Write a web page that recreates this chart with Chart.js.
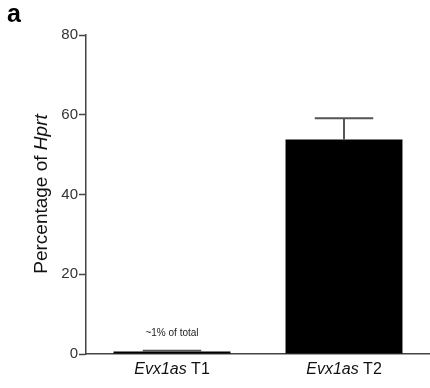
<!DOCTYPE html>
<html>
<head>
  <meta charset="UTF-8">
  <script src="https://cdn.jsdelivr.net/npm/chart.js"></script>
  <style>
    html, body { margin: 0; padding: 0; background: #fff; }
    #wrap { width: 430px; height: 388px; position: relative; }
  </style>
</head>
<body>
  <div id="wrap"><canvas id="myChart"></canvas></div>

<script>
  var categorias = ['T1', 'T2'];
  var valores = [0.6, 53.8];
  var erros = [0.2, 5.3];
  var yTicks = [0, 20, 40, 60, 80];

  var fonte = '"Liberation Sans", Arial, sans-serif';

  // barras de erro + textos com italico
  var extras = {
    id: 'extras',
    afterDatasetsDraw: function (chart) {
      var ctx = chart.ctx;
      var meta = chart.getDatasetMeta(0);
      var y = chart.scales.y;
      ctx.save();
      ctx.strokeStyle = '#555';
      ctx.lineWidth = 2;
      for (var i = 0; i < valores.length; i++) {
        var bar = meta.data[i];
        var meio = bar.width / 4;
        var topo = y.getPixelForValue(valores[i] + erros[i]);
        var base = y.getPixelForValue(valores[i]);
        ctx.beginPath();
        ctx.moveTo(bar.x, base);
        ctx.lineTo(bar.x, topo);
        ctx.moveTo(bar.x - meio, topo);
        ctx.lineTo(bar.x + meio, topo);
        ctx.stroke();
      }
      ctx.restore();
    },
    afterDraw: function (chart) {
      var ctx = chart.ctx;
      var x = chart.scales.x;
      ctx.save();
      ctx.fillStyle = '#111';
      ctx.textBaseline = 'middle';

      // rotulos do eixo x
      for (var i = 0; i < categorias.length; i++) {
        var px = x.getPixelForValue(i);
        ctx.font = 'italic 16px ' + fonte;
        var w1 = ctx.measureText('Evx1as').width;
        ctx.font = '16px ' + fonte;
        var w2 = ctx.measureText(' ' + categorias[i]).width;
        var ini = px - (w1 + w2) / 2;
        ctx.textAlign = 'left';
        ctx.font = 'italic 16px ' + fonte;
        ctx.fillText('Evx1as', ini, 370);
        ctx.font = '16px ' + fonte;
        ctx.fillText(' ' + categorias[i], ini + w1, 370);
      }

      // anotacao
      ctx.font = '10px ' + fonte;
      ctx.textAlign = 'center';
      ctx.fillStyle = '#222';
      ctx.fillText('~1% of total', x.getPixelForValue(0), 333);

      // titulo do eixo y
      ctx.save();
      ctx.translate(42, 194);
      ctx.rotate(-Math.PI / 2);
      ctx.fillStyle = '#111';
      ctx.font = '19px ' + fonte;
      var a = ctx.measureText('Percentage of ').width;
      ctx.font = 'italic 19px ' + fonte;
      var b = ctx.measureText('Hprt').width;
      ctx.textAlign = 'left';
      ctx.font = '19px ' + fonte;
      ctx.fillText('Percentage of ', -(a + b) / 2, 0);
      ctx.font = 'italic 19px ' + fonte;
      ctx.fillText('Hprt', -(a + b) / 2 + a, 0);
      ctx.restore();

      // letra do painel
      ctx.font = 'bold 25px ' + fonte;
      ctx.textAlign = 'left';
      ctx.fillStyle = '#000';
      ctx.fillText('a', 7, 15);
      ctx.restore();
    }
  };

  const config = {
    type: 'bar',
    data: {
      labels: categorias,
      datasets: [{
        data: valores,
        backgroundColor: '#000',
        borderWidth: 0,
        barPercentage: 0.68,
        categoryPercentage: 1
      }]
    },
    options: {
      responsive: true,
      maintainAspectRatio: false,
      animation: false,
      layout: { padding: { top: 35, right: 0, left: 0, bottom: 0 } },
      plugins: { legend: { display: false }, tooltip: { enabled: false } },
      scales: {
        x: {
          grid: { display: false, drawTicks: false },
          border: { display: true, color: '#444', width: 1.5 },
          ticks: { display: false },
          afterFit: function (s) { s.height = 34; }
        },
        y: {
          min: 0,
          max: 80,
          afterBuildTicks: function (s) { s.ticks = yTicks.map(function (v) { return { value: v }; }); },
          grid: { drawOnChartArea: false, drawTicks: true, tickLength: 7, tickColor: '#444', tickWidth: 1.5 },
          border: { display: true, color: '#444', width: 1.5 },
          ticks: { color: '#333', padding: 1, font: { family: fonte, size: 15 } },
          afterFit: function (s) { s.width = 86; }
        }
      }
    },
    plugins: [extras]
  };

  const myChart = new Chart(document.getElementById('myChart'), config);
</script>
</body>
</html>
